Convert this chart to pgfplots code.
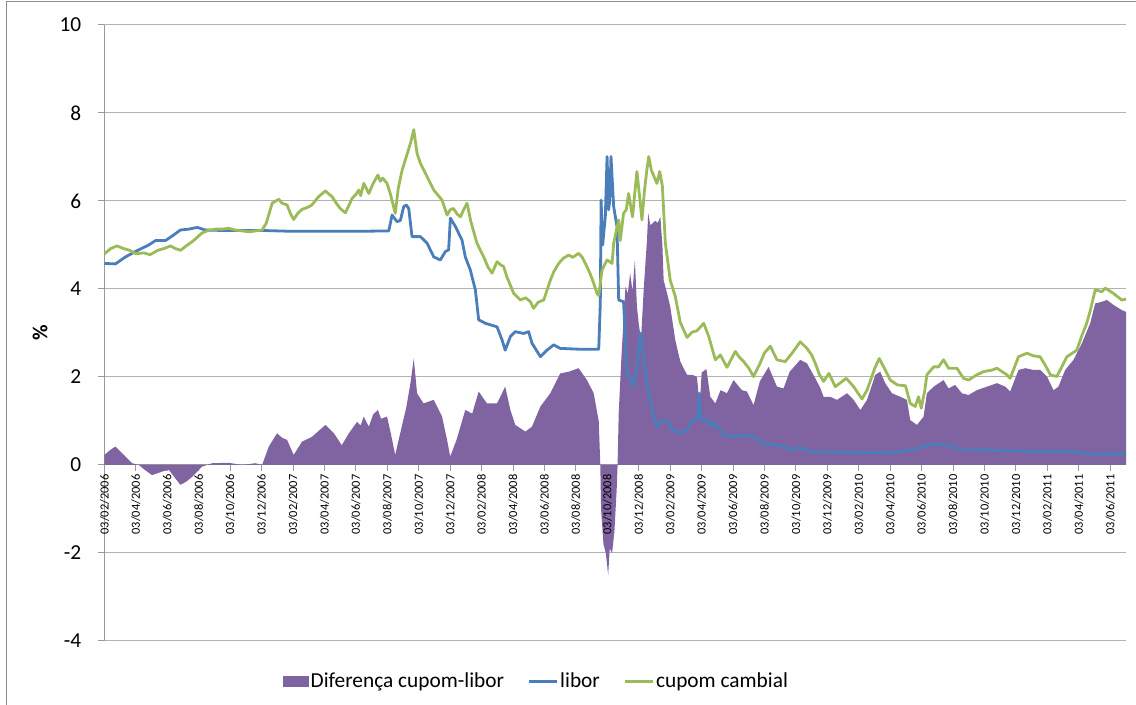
\documentclass[border=0pt]{standalone}
\usepackage{fontspec}
\setmainfont{Carlito}
\usepackage{pgfplots}
\usepackage{pgfplotstable}
\pgfplotsset{compat=1.18}
\definecolor{purp}{HTML}{8064A2}
\definecolor{lblue}{HTML}{4A7EBB}
\definecolor{lgreen}{HTML}{9BBB59}

\pgfplotstableread{
x y
0.0 0.23
0.4 0.35
0.7 0.42
1.12 0.27
1.76 0.04
2.18 0.0
2.6 -0.12
3.03 -0.23
3.67 -0.15
4.1 -0.11
4.5 -0.30
4.83 -0.45
5.2 -0.38
5.58 -0.27
6.2 -0.04
6.85 0.04
7.9 0.05
8.76 0.0
9.6 0.04
10.03 0.0
10.46 0.42
10.98 0.72
11.3 0.62
11.62 0.57
12.04 0.23
12.57 0.53
13.2 0.64
14.06 0.91
14.6 0.72
15.1 0.45
15.55 0.72
16.07 0.98
16.3 0.90
16.5 1.10
16.82 0.87
17.1 1.15
17.4 1.25
17.6 1.05
17.98 1.10
18.2 0.75
18.5 0.23
18.94 0.91
19.2 1.3
19.47 1.86
19.68 2.42
19.89 1.63
20.3 1.40
20.95 1.48
21.48 1.10
21.8 0.57
22.0 0.19
22.4 0.57
22.96 1.25
23.4 1.17
23.81 1.67
24.34 1.40
24.98 1.40
25.5 1.78
25.83 1.25
26.14 0.91
26.78 0.76
27.2 0.87
27.74 1.33
28.37 1.63
29.0 2.08
29.54 2.12
30.17 2.20
30.7 1.93
31.13 1.63
31.45 1.00
31.55 0.0
31.6 -1.0
31.75 -1.8
31.9 -2.0
32.05 -2.5
32.15 -1.9
32.3 -2.0
32.45 -1.5
32.6 -0.5
32.65 0.0
32.72 1.17
32.9 2.50
33.03 3.30
33.15 4.05
33.3 3.90
33.45 4.36
33.6 3.95
33.75 4.66
33.88 3.60
34.0 3.20
34.14 2.84
34.31 3.98
34.52 5.11
34.6 5.72
34.73 5.45
34.9 5.50
35.05 5.55
35.2 5.50
35.37 5.64
35.5 5.00
35.58 4.20
35.8 3.90
36.0 3.60
36.32 2.84
36.64 2.35
37.07 2.05
37.4 2.05
37.7 2.00
37.87 1.35
38.0 2.10
38.3 2.18
38.55 1.55
38.87 1.40
39.2 1.70
39.61 1.63
40.03 1.93
40.56 1.70
40.88 1.67
41.3 1.36
41.7 1.90
42.26 2.23
42.79 1.78
43.21 1.74
43.6 2.12
44.27 2.39
44.7 2.31
45.23 1.97
45.55 1.75
45.76 1.55
46.18 1.55
46.61 1.48
47.25 1.63
47.67 1.48
48.1 1.25
48.52 1.48
49.05 2.05
49.36 2.12
49.68 1.86
50.11 1.63
50.64 1.55
51.06 1.48
51.27 1.02
51.7 0.91
52.12 1.10
52.33 1.63
52.76 1.78
53.39 1.93
53.71 1.74
54.13 1.82
54.56 1.63
54.98 1.59
55.51 1.70
56.15 1.78
56.79 1.86
57.32 1.78
57.63 1.67
58.16 2.16
58.59 2.20
59.12 2.16
59.54 2.16
59.97 2.01
60.39 1.70
60.7 1.78
61.13 2.16
61.66 2.39
62.2 2.77
62.72 3.22
63.04 3.67
63.47 3.71
63.78 3.75
64.2 3.64
64.73 3.52
65.0 3.48
}\diffdata

\pgfplotstableread{
x y
0.0 4.58
0.7 4.57
1.34 4.73
2.18 4.89
2.82 5.00
3.24 5.10
3.88 5.10
4.41 5.23
4.83 5.34
5.36 5.36
5.9 5.40
6.42 5.34
7.49 5.33
8.8 5.33
10.03 5.33
12 5.31
14 5.31
16 5.31
18.09 5.32
18.3 5.68
18.62 5.53
18.83 5.56
19.04 5.87
19.2 5.91
19.36 5.83
19.57 5.19
20.1 5.19
20.53 5.04
20.95 4.73
21.37 4.66
21.69 4.85
21.9 4.89
22.01 5.61
22.33 5.42
22.75 5.11
22.96 4.73
23.28 4.43
23.6 3.98
23.81 3.30
24.24 3.22
24.98 3.14
25.3 2.84
25.5 2.61
25.83 2.92
26.14 3.03
26.67 2.99
26.99 3.03
27.2 2.77
27.74 2.46
28.16 2.61
28.58 2.73
29.0 2.65
30.28 2.63
31.45 2.63
31.55 3.67
31.6 6.02
31.7 5.00
31.87 5.65
31.98 7.01
32.08 5.80
32.15 6.00
32.23 7.01
32.4 5.87
32.61 5.42
32.72 3.75
33.03 3.71
33.25 2.05
33.46 2.01
33.67 1.78
33.88 2.23
34.1 2.99
34.31 2.46
34.63 1.63
34.94 1.10
35.16 0.87
35.48 1.02
35.9 0.98
36.11 0.80
36.64 0.72
37.07 0.80
37.39 1.02
37.7 1.02
37.85 1.63
37.96 1.02
38.34 1.02
38.55 0.87
38.7 0.98
39.19 0.80
39.5 0.66
41.2 0.67
41.94 0.48
43.0 0.45
43.64 0.36
44.3 0.39
44.9 0.30
48.1 0.28
49.8 0.28
51.06 0.32
51.5 0.36
52.44 0.45
52.65 0.47
53.8 0.45
54.13 0.38
55.5 0.34
57.6 0.32
61.9 0.30
62.4 0.25
65.0 0.26
}\libordata

\pgfplotstableread{
x y
0.0 4.80
0.4 4.92
0.8 4.98
1.2 4.92
1.6 4.88
2.0 4.80
2.5 4.82
2.9 4.78
3.4 4.88
3.8 4.92
4.2 4.98
4.5 4.92
4.85 4.88
5.2 4.98
5.6 5.08
6.2 5.27
6.6 5.33
7.06 5.36
7.5 5.36
7.9 5.38
8.3 5.34
8.76 5.32
9.2 5.30
9.6 5.32
10.03 5.34
10.3 5.50
10.67 5.95
11.09 6.04
11.3 5.95
11.62 5.91
11.85 5.70
12.04 5.58
12.3 5.72
12.57 5.81
12.9 5.85
13.2 5.91
13.63 6.10
14.06 6.23
14.3 6.15
14.48 6.10
14.75 5.95
15.0 5.83
15.33 5.73
15.55 5.90
15.76 6.06
16.0 6.15
16.18 6.25
16.3 6.12
16.5 6.40
16.82 6.17
17.1 6.40
17.4 6.59
17.55 6.45
17.7 6.52
17.98 6.40
18.2 6.15
18.5 5.72
18.7 6.30
18.94 6.70
19.2 7.00
19.47 7.31
19.68 7.62
19.89 7.08
20.1 6.86
20.53 6.55
20.95 6.25
21.48 6.02
21.8 5.68
22.0 5.80
22.2 5.83
22.45 5.70
22.65 5.64
22.85 5.80
23.07 5.95
23.3 5.55
23.7 5.04
24.13 4.73
24.4 4.50
24.66 4.36
24.98 4.62
25.2 4.55
25.4 4.51
25.6 4.28
26.04 3.90
26.46 3.75
26.8 3.80
27.1 3.71
27.3 3.56
27.6 3.70
27.95 3.75
28.37 4.20
28.6 4.40
28.9 4.58
29.2 4.70
29.54 4.77
29.8 4.72
30.17 4.81
30.4 4.72
30.7 4.51
30.9 4.35
31.13 4.13
31.34 3.90
31.45 3.85
31.66 4.43
31.98 4.66
32.3 4.58
32.4 5.04
32.72 5.57
32.82 5.10
33.03 5.72
33.2 5.80
33.35 6.17
33.6 5.64
33.75 6.20
33.88 6.67
34.05 6.10
34.2 5.57
34.35 6.20
34.5 6.67
34.63 7.01
34.8 6.70
34.94 6.58
35.15 6.40
35.33 6.67
35.5 6.33
35.69 5.04
36.0 4.20
36.32 3.83
36.64 3.24
37.07 2.90
37.39 3.02
37.7 3.05
38.13 3.22
38.45 2.92
38.87 2.39
39.19 2.50
39.61 2.22
40.14 2.58
40.4 2.45
40.67 2.35
41.0 2.20
41.3 2.01
41.7 2.30
42.0 2.55
42.37 2.70
42.79 2.39
43.32 2.35
43.75 2.54
44.27 2.80
44.7 2.65
45.0 2.50
45.23 2.31
45.5 2.05
45.76 1.90
46.1 2.08
46.5 1.78
47.2 1.97
47.67 1.78
48.2 1.50
48.52 1.70
49.05 2.23
49.3 2.42
49.68 2.16
50.0 1.93
50.45 1.82
50.97 1.80
51.27 1.40
51.59 1.33
51.8 1.55
51.97 1.29
52.2 1.70
52.33 2.05
52.76 2.23
53.07 2.23
53.39 2.39
53.71 2.20
54.24 2.20
54.66 1.97
54.98 1.93
55.51 2.05
55.93 2.12
56.5 2.16
56.79 2.20
57.42 2.05
57.63 1.97
58.16 2.46
58.7 2.54
59.12 2.48
59.54 2.46
59.97 2.20
60.18 2.05
60.6 2.01
61.24 2.46
61.87 2.61
62.2 2.95
62.5 3.22
62.72 3.50
63.04 3.98
63.47 3.94
63.68 4.02
64.2 3.90
64.73 3.75
65.0 3.77
}\cupomdata

\begin{document}
\begin{tikzpicture}
\path[use as bounding box] (0,0) rectangle (852pt,528.75pt);
\draw[black!45, line width=0.75pt] (4.5pt,0) -- (4.5pt,527.25pt) -- (852pt,527.25pt);
\begin{axis}[
  at={(78pt,48pt)}, anchor=south west,
  scale only axis, width=766.5pt, height=462pt,
  xmin=0.97, xmax=66, ymin=-4, ymax=10,
  axis x line=middle, axis y line=left,
  axis line style={draw=black!40, line width=0.75pt, -},
  ytick={-4,-2,0,2,4,6,8,10},
  yticklabels={-4,-2,0,2,4,6,8,10},
  ymajorgrids,
  grid style={draw=black!30, line width=0.75pt},
  xtick={1,3,...,65},
  xticklabels={},
  tick align=outside,
  major tick length=4.5pt,
  tick style={draw=black!40, line width=0.75pt},
  yticklabel style={font=\fontsize{16}{18}\selectfont, xshift=-9pt},
  every axis y label/.style={at={(axis description cs:-0.0626,0.5)}, anchor=center, rotate=90, font=\bfseries\fontsize{16}{18}\selectfont},
  ylabel={\%},
  legend columns=3,
  legend style={at={(axis description cs:0.423,-0.0657)}, anchor=center, draw=none, fill=none,
    font=\fontsize{16}{18}\selectfont, nodes={inner xsep=1.5pt},
    /tikz/column sep=0pt},
]
\addplot[fill=purp, draw=none,
  legend image code/.code={\fill[purp] (0pt,-4.2pt) rectangle (19.5pt,4.2pt);}]
  table[x expr=\thisrow{x}+1,y=y] {\diffdata} \closedcycle;
\addlegendentry{Diferença cupom-libor\makebox[16pt]{}}
\addplot[lblue, line width=2.1pt, line join=round,
  legend image code/.code={\draw[lblue, line width=2.1pt] (0pt,0pt) -- (21pt,0pt);}]
  table[x expr=\thisrow{x}+1,y=y] {\libordata};
\addlegendentry{libor\makebox[16pt]{}}
\addplot[lgreen, line width=2.1pt, line join=round,
  legend image code/.code={\draw[lgreen, line width=2.1pt] (0pt,0pt) -- (21pt,0pt);}]
  table[x expr=\thisrow{x}+1,y=y] {\cupomdata};
\addlegendentry{cupom cambial}
\end{axis}
\begin{axis}[
  at={(78pt,48pt)}, anchor=south west,
  scale only axis, width=766.5pt, height=462pt,
  xmin=0.97, xmax=66, ymin=-4, ymax=10,
  axis x line=middle, axis y line=none,
  x axis line style={draw=none},
  major tick length=0pt,
  ytick=\empty,
  xtick={1,3,...,65},
  xticklabels={03/02/2006,03/04/2006,03/06/2006,03/08/2006,03/10/2006,03/12/2006,
    03/02/2007,03/04/2007,03/06/2007,03/08/2007,03/10/2007,03/12/2007,
    03/02/2008,03/04/2008,03/06/2008,03/08/2008,03/10/2008,03/12/2008,
    03/02/2009,03/04/2009,03/06/2009,03/08/2009,03/10/2009,03/12/2009,
    03/02/2010,03/04/2010,03/06/2010,03/08/2010,03/10/2010,03/12/2010,
    03/02/2011,03/04/2011,03/06/2011},
  xticklabel style={rotate=90, anchor=east, font=\fontsize{9.3}{10}\selectfont, inner sep=0pt, xshift=-7pt},
]
\end{axis}
\end{tikzpicture}
\end{document}
